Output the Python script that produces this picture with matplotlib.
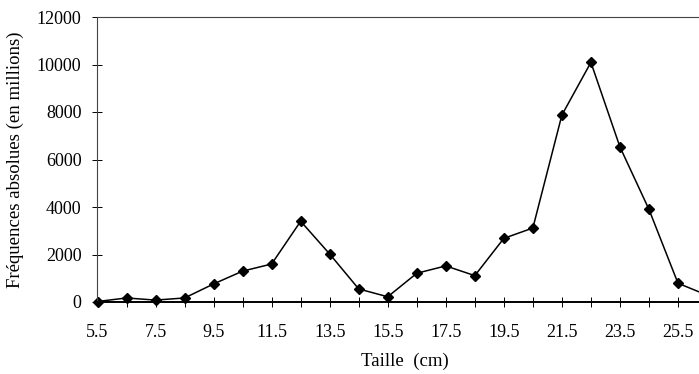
import numpy as np
import matplotlib.pyplot as plt

# sizes (cm) and absolute frequencies (millions)
taille = [5.5, 6.5, 7.5, 8.5, 9.5, 10.5, 11.5, 12.5, 13.5, 14.5, 15.5,
          16.5, 17.5, 18.5, 19.5, 20.5, 21.5, 22.5, 23.5, 24.5, 25.5, 26.5]
freq = [20, 170, 80, 170, 760, 1300, 1600, 3400, 2020, 550, 220,
        1210, 1520, 1110, 2680, 3115, 7870, 10090, 6530, 3900, 790, 290]
xtick_labels = ["5.5", "7.5", "9.5", "11.5", "13.5", "15.5", "17.5",
                "19.5", "21.5", "23.5", "25.5"]
yticks = [0, 2000, 4000, 6000, 8000, 10000, 12000]

plt.rcParams['font.family'] = ['Liberation Serif', 'DejaVu Serif']

fig = plt.figure(figsize=(6.99, 3.74), dpi=100)
# axes run a bit past the right edge of the picture, as in the scan
ax = fig.add_axes([97.5 / 699, 1 - 302 / 374, (707 - 97.5) / 699, 285 / 374])

ax.plot(taille, freq, color='black', lw=1.1, marker='D', markersize=5.5,
        markerfacecolor='black', markeredgecolor='black', clip_on=False)

ax.set_xlim(5.5, 26.5)
ax.set_ylim(0, 12000)

ax.set_xticks([float(t) for t in xtick_labels])
ax.set_xticklabels(xtick_labels)
ax.set_xticks(taille, minor=True)
ax.set_yticks(yticks)
ax.set_yticklabels([str(v) for v in yticks])

ax.tick_params(axis='x', which='both', direction='inout', length=7, width=0.7,
               pad=12, labelsize=13)
ax.tick_params(axis='y', which='both', direction='inout', length=7, width=0.7,
               pad=8, labelsize=13)

for side in ['left', 'top', 'right']:
    ax.spines[side].set_linewidth(0.8)
    ax.spines[side].set_color('#444444')
ax.spines['top'].set_linestyle((0, (3, 1)))
ax.spines['left'].set_linestyle((0, (3, 1)))
ax.spines['bottom'].set_linewidth(1.4)

ax.set_ylabel('Fréquences absolues (en millions)', fontsize=13.5, labelpad=9)
ax.set_xlabel('Taille  (cm)', fontsize=13.5)
ax.xaxis.set_label_coords((405 - 97.5) / (707 - 97.5), -(353 - 302) / 285)

fig.savefig('out.png', dpi=100)
